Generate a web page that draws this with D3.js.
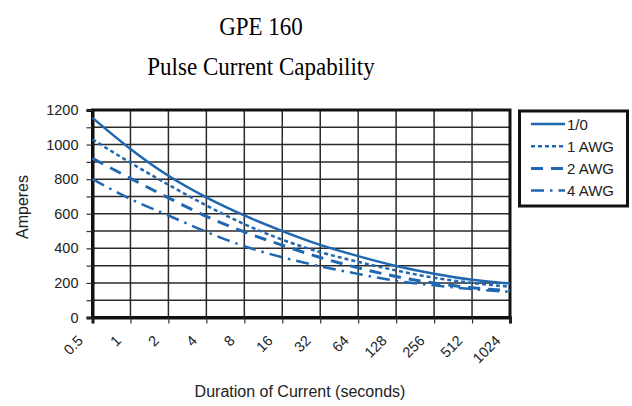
<!DOCTYPE html>
<html>
<head>
<meta charset="utf-8">
<script src="https://cdn.jsdelivr.net/npm/d3@7"></script>
<style>
  body { margin: 0; background: #fff; }
  svg { display: block; }
  text { font-family: "Liberation Sans", Arial, sans-serif; fill: #222; }
</style>
</head>
<body>
<div id="chart"></div>
<script>
// durations in seconds (x axis, log2 spaced)
const durations = [0.5, 1, 2, 4, 8, 16, 32, 64, 128, 256, 512, 1024];
const durationLabels = ["0.5", "1", "2", "4", "8", "16", "32", "64", "128", "256", "512", "1024"];

// amperes
const amps10   = [1155, 975, 820, 695, 590, 500, 420, 355, 298, 253, 218, 196];
const amps1awg = [1030, 895, 768, 648, 540, 450, 378, 322, 272, 230, 200, 178];
const amps2awg = [920, 805, 692, 585, 495, 418, 347, 287, 237, 199, 172, 155];
const amps4awg = [800, 685, 590, 495, 412, 348, 296, 252, 212, 186, 164, 148];

const seriesNames = ["1/0", "1 AWG", "2 AWG", "4 AWG"];
const yTicks = [0, 200, 400, 600, 800, 1000, 1200];

const W = 632, H = 406;
const plotL = 92.5, plotR = 510, plotT = 110, plotB = 317.5;
const blue = "#1f67b1";

const series = [
  { name: seriesNames[0], values: amps10,   dash: null,          width: 2.5 },
  { name: seriesNames[1], values: amps1awg, dash: "4,3",         width: 2.5 },
  { name: seriesNames[2], values: amps2awg, dash: "12,8",        width: 3 },
  { name: seriesNames[3], values: amps4awg, dash: "13,6,2.5,6",  width: 2.5 }
];

const svg = d3.select("#chart").append("svg")
  .attr("width", W)
  .attr("height", H);

const x = d3.scaleLog().base(2).domain([0.5, 1024]).range([plotL, plotR]);
const y = d3.scaleLinear().domain([0, 1200]).range([plotB, plotT]);

// titles (serif, a bit taller than wide like the scan)
function title(txt, yy) {
  svg.append("text")
    .attr("transform", `translate(261,${yy}) scale(0.92,1)`)
    .attr("text-anchor", "middle")
    .style("font-family", "'Liberation Serif', 'Times New Roman', serif")
    .style("font-size", "25px")
    .style("fill", "#000")
    .text(txt);
}
title("GPE 160", 35);
title("Pulse Current Capability", 75);

// grid
const grid = svg.append("g");
grid.selectAll("line.h")
  .data(d3.range(100, 1200, 100))
  .enter().append("line")
  .attr("x1", plotL).attr("x2", plotR)
  .attr("y1", d => y(d)).attr("y2", d => y(d))
  .attr("stroke", "#2a2a2a")
  .attr("stroke-width", 1.5);
grid.selectAll("line.v")
  .data(durations.slice(1, -1))
  .enter().append("line")
  .attr("y1", plotT).attr("y2", plotB)
  .attr("x1", d => x(d)).attr("x2", d => x(d))
  .attr("stroke", "#2a2a2a")
  .attr("stroke-width", 1.5);

// frame
svg.append("rect")
  .attr("x", plotL).attr("y", plotT)
  .attr("width", plotR - plotL).attr("height", plotB - plotT)
  .attr("fill", "none")
  .attr("stroke", "#111")
  .attr("stroke-width", 3);

// y axis
const yAxis = svg.append("g")
  .attr("transform", `translate(${plotL},0)`)
  .call(d3.axisLeft(y).tickValues(d3.range(0, 1300, 100)).tickSize(6)
    .tickFormat(d => yTicks.includes(d) ? d : ""));
yAxis.select(".domain").attr("stroke", "#111").attr("stroke-width", 3);
yAxis.selectAll(".tick line").attr("stroke", "#333").attr("stroke-width", 1.2);
yAxis.selectAll(".tick text")
  .attr("x", -14)
  .style("font-size", "14.5px")
  .style("font-family", "'Liberation Sans', Arial, sans-serif");

// x axis
const xAxis = svg.append("g")
  .attr("transform", `translate(0,${plotB})`)
  .call(d3.axisBottom(x).tickValues(durations).tickSize(6).tickFormat((d, i) => durationLabels[i]));
xAxis.select(".domain").attr("stroke", "#111").attr("stroke-width", 3);
xAxis.selectAll(".tick line").attr("stroke", "#333").attr("stroke-width", 1.2);
xAxis.selectAll(".tick text")
  .attr("x", 0).attr("y", 0).attr("dy", 0)
  .attr("text-anchor", "end")
  .attr("transform", "translate(-9,24) rotate(-45)")
  .style("font-size", "14.5px")
  .style("font-family", "'Liberation Sans', Arial, sans-serif");

// axis titles
svg.append("text")
  .attr("transform", "translate(28,207) rotate(-90)")
  .attr("text-anchor", "middle")
  .style("font-size", "16px")
  .text("Amperes");
svg.append("text")
  .attr("x", 300).attr("y", 397)
  .attr("text-anchor", "middle")
  .style("font-size", "16px")
  .text("Duration of Current (seconds)");

// curves
const line = d3.line()
  .x((d, i) => x(durations[i]))
  .y(d => y(d))
  .curve(d3.curveMonotoneX);

svg.append("g").selectAll("path")
  .data(series)
  .enter().append("path")
  .attr("d", d => line(d.values))
  .attr("fill", "none")
  .attr("stroke", blue)
  .attr("stroke-width", d => d.width)
  .attr("stroke-dasharray", d => d.dash);

// legend
const legend = svg.append("g");
legend.append("rect")
  .attr("x", 519.5).attr("y", 111)
  .attr("width", 108).attr("height", 95)
  .attr("fill", "#fff")
  .attr("stroke", "#111")
  .attr("stroke-width", 3);

const items = legend.selectAll("g.item")
  .data(series)
  .enter().append("g")
  .attr("transform", (d, i) => `translate(531,${124 + i * 22.2})`);
items.append("line")
  .attr("x1", 0).attr("x2", 34)
  .attr("stroke", blue)
  .attr("stroke-width", d => d.width)
  .attr("stroke-dasharray", d => d.dash);
items.append("text")
  .attr("x", 36).attr("y", 5.5)
  .style("font-size", "15px")
  .text(d => d.name);
</script>
</body>
</html>
